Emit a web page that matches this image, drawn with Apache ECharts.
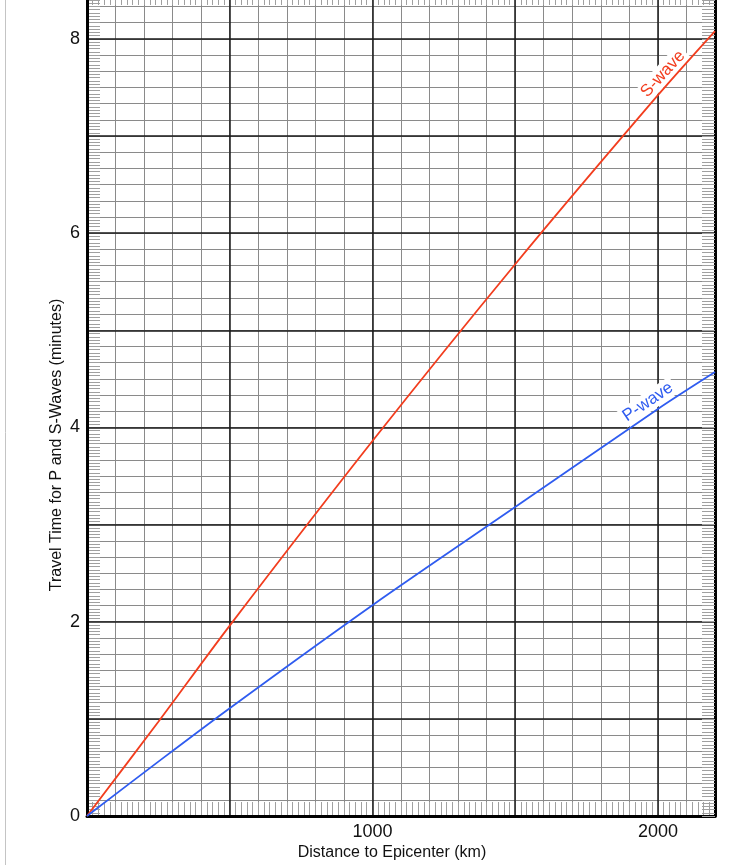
<!DOCTYPE html>
<html><head><meta charset="utf-8">
<script src="https://cdn.jsdelivr.net/npm/echarts@6/dist/echarts.min.js"></script>
<style>html,body{margin:0;padding:0;background:#fff}#c{width:742px;height:865px}</style>
</head><body><div id="c"></div>
<script>
// ---- data ----
const distanceKm = [0, 250, 500, 1000, 1500, 2000, 2200];
const sWaveMin   = [0, 0.97, 1.96, 3.86, 5.68, 7.42, 8.08];
const pWaveMin   = [0, 0.56, 1.11, 2.17, 3.18, 4.19, 4.57];
const xTickLabels = [1000, 2000];
const yTickLabels = [0, 2, 4, 6, 8];
const seriesNames = ['S-wave', 'P-wave'];
const xAxisTitle = 'Distance to Epicenter (km)';
const yAxisTitle = 'Travel Time for P and S-Waves (minutes)';

// ---- styling ----
const FONT = '"Liberation Sans", Arial, Helvetica, sans-serif';
const RED = '#f23d1e', BLUE = '#2f5cf0';
const X_MAX = 2200, Y_MAX = 8.4;

const chart = echarts.init(document.getElementById('c'), null, {renderer: 'canvas'});

function pairs(xs, ys) { return xs.map((x, i) => [x, ys[i]]); }
// colour list for split lines: last (extent) line hidden
function lineColors(n, c) { const a = []; for (let i = 0; i < n; i++) a.push(c); a.push('rgba(0,0,0,0)'); return a; }

const hiddenX = (extra) => Object.assign({
  type: 'value', gridIndex: 0, min: 0, max: X_MAX,
  axisLine: {show: false, onZero: false}, axisLabel: {show: false}, axisTick: {show: false},
  splitLine: {show: false}
}, extra);
const hiddenY = (extra) => Object.assign({
  type: 'value', gridIndex: 0, min: 0, max: Math.round(Y_MAX * 60),
  axisLine: {show: false, onZero: false}, axisLabel: {show: false}, axisTick: {show: false},
  splitLine: {show: false}
}, extra);

const option = {
  backgroundColor: '#fff',
  animation: false,
  grid: {left: 87, right: 27, top: 0, bottom: 49, containLabel: false},
  xAxis: [
    { // main axis: black lines every 500 km
      type: 'value', min: 0, max: X_MAX, interval: 500, z: 3, position: 'bottom',
      axisLine: {show: true, onZero: false, lineStyle: {color: '#000', width: 3}},
      axisTick: {show: false},
      axisLabel: {
        margin: 7, color: '#111', fontSize: 18, fontFamily: FONT,
        formatter: v => xTickLabels.includes(v) ? String(v) : ''
      },
      splitLine: {show: true, lineStyle: {color: '#1a1a1a', width: 1.5}}
    },
    hiddenX({interval: 100, z: 1, position: 'bottom',
      splitLine: {show: true, lineStyle: {color: '#8a8a8a', width: 1}}}),
    hiddenX({interval: 20, z: 2, position: 'bottom',
      axisTick: {show: true, inside: true, length: 14, lineStyle: {color: '#a0a0a0', width: 1}}}),
    hiddenX({interval: 20, z: 2, position: 'top',
      axisTick: {show: true, inside: true, length: 5, lineStyle: {color: '#a0a0a0', width: 1}}})
  ],
  yAxis: [
    { // main axis: black lines every minute
      type: 'value', min: 0, max: Y_MAX, interval: 1, z: 3, position: 'left',
      axisLine: {show: true, onZero: false, lineStyle: {color: '#000', width: 3}},
      axisTick: {show: false},
      axisLabel: {
        margin: 7, color: '#111', fontSize: 18, fontFamily: FONT,
        formatter: v => yTickLabels.includes(v) ? String(v) : ''
      },
      splitLine: {show: true, lineStyle: {color: lineColors(9, '#1a1a1a'), width: 1.5}}
    },
    hiddenY({interval: 10, z: 1, position: 'left',
      splitLine: {show: true, lineStyle: {color: lineColors(51, '#8a8a8a'), width: 1}}}),
    hiddenY({interval: 2, z: 2, position: 'left',
      axisTick: {show: true, inside: true, length: 13, lineStyle: {color: '#a0a0a0', width: 1}}}),
    hiddenY({interval: 2, z: 4, position: 'right',
      axisLine: {show: true, onZero: false, lineStyle: {color: '#000', width: 3}},
      axisTick: {show: true, inside: true, length: 13, lineStyle: {color: '#a0a0a0', width: 1}}})
  ],
  series: [
    {
      name: seriesNames[0], type: 'line', xAxisIndex: 0, yAxisIndex: 0,
      data: pairs(distanceKm, sWaveMin), smooth: 0.3, showSymbol: false, symbol: 'none',
      lineStyle: {color: RED, width: 1.8}, z: 7
    },
    {
      name: seriesNames[1], type: 'line', xAxisIndex: 0, yAxisIndex: 0,
      data: pairs(distanceKm, pWaveMin), smooth: 0.3, showSymbol: false, symbol: 'none',
      lineStyle: {color: BLUE, width: 1.8}, z: 7
    }
  ],
  graphic: [
    {type: 'line', shape: {x1: 5.5, y1: 0, x2: 5.5, y2: 865}, style: {stroke: '#c4c4c4', lineWidth: 1}, z: 1},
    {type: 'text', x: 392, y: 853, z: 10,
      style: {text: xAxisTitle, font: '16px ' + FONT, fill: '#111', textAlign: 'center', textVerticalAlign: 'middle'}},
    {type: 'text', x: 57, y: 445, rotation: Math.PI / 2, z: 10,
      style: {text: yAxisTitle, font: '16px ' + FONT, fill: '#111', textAlign: 'center', textVerticalAlign: 'middle'}},
    {type: 'text', x: 663, y: 74, rotation: 47.5 * Math.PI / 180, z: 5,
      style: {text: seriesNames[0], font: '17px ' + FONT, fill: RED, textAlign: 'center', textVerticalAlign: 'middle',
        backgroundColor: '#fff', padding: [1, 3]}},
    {type: 'text', x: 648, y: 402, rotation: 34 * Math.PI / 180, z: 5,
      style: {text: seriesNames[1], font: '17px ' + FONT, fill: BLUE, textAlign: 'center', textVerticalAlign: 'middle',
        backgroundColor: '#fff', padding: [1, 3]}}
  ]
};
chart.setOption(option);
</script>
</body></html>
